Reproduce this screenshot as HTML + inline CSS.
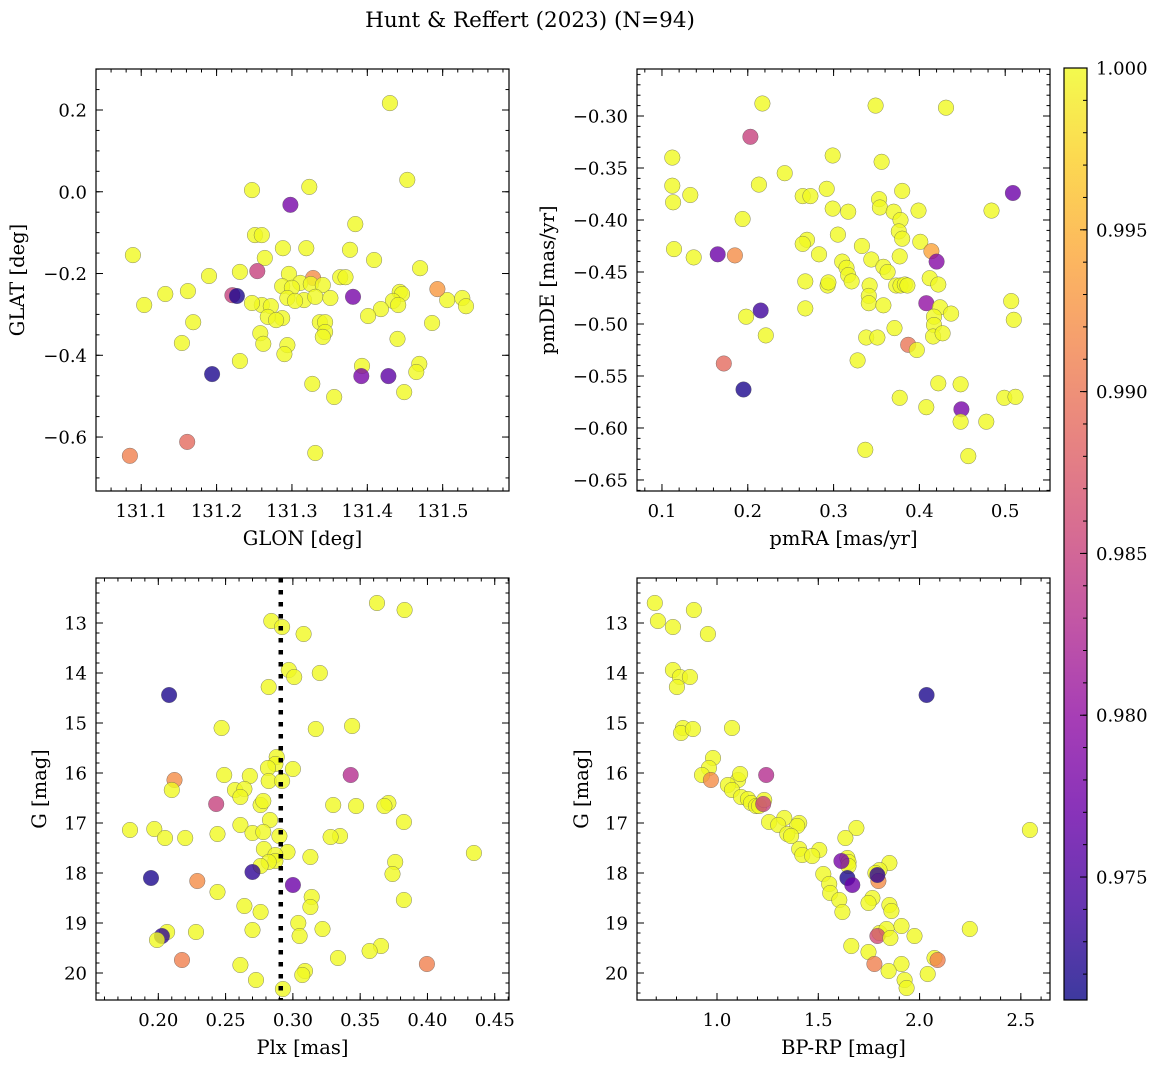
<!DOCTYPE html>
<html><head><meta charset="utf-8">
<style>
html,body{margin:0;padding:0;background:#fff;}
svg{display:block;font-family:"DejaVu Serif","Liberation Serif",serif;}
</style></head>
<body>
<svg id="fig" width="1161" height="1068" viewBox="0 0 1161 1068">
<defs>
<linearGradient id="cbgrad" x1="0" y1="1" x2="0" y2="0">
<stop offset="0" stop-color="#0d0887"/><stop offset="0.1" stop-color="#41049d"/>
<stop offset="0.2" stop-color="#6a00a8"/><stop offset="0.3" stop-color="#8f0da4"/>
<stop offset="0.4" stop-color="#b12a90"/><stop offset="0.5" stop-color="#cc4778"/>
<stop offset="0.6" stop-color="#e16462"/><stop offset="0.7" stop-color="#f2844b"/>
<stop offset="0.8" stop-color="#fca636"/><stop offset="0.9" stop-color="#fcce25"/>
<stop offset="1" stop-color="#f0f921"/>
</linearGradient>
</defs>
<text x="530" y="27" text-anchor="middle" font-size="21.5">Hunt &amp; Reffert (2023) (N=94)</text>
</svg>
<script>
// Panel data: [x, y, membership probability]
const glonGlat = [[131.430,0.217,1],[131.247,0.004,1],[131.323,0.012,1],[131.453,0.029,1],[131.298,-0.032,0.978],[131.384,-0.079,1],[131.251,-0.106,1],[131.260,-0.106,1],[131.089,-0.155,1],[131.288,-0.138,1],[131.319,-0.138,1],[131.377,-0.142,1],[131.264,-0.162,1],[131.409,-0.167,1],[131.470,-0.187,1],[131.231,-0.196,1],[131.254,-0.194,0.985],[131.296,-0.201,1],[131.190,-0.206,1],[131.364,-0.209,1],[131.371,-0.209,1],[131.328,-0.211,0.992],[131.311,-0.223,1],[131.325,-0.226,1],[131.287,-0.231,1],[131.300,-0.235,1],[131.341,-0.228,1],[131.162,-0.243,1],[131.132,-0.250,1],[131.221,-0.253,0.985],[131.227,-0.255,0.972],[131.443,-0.245,1],[131.446,-0.250,1],[131.506,-0.265,1],[131.526,-0.260,1],[131.294,-0.260,1],[131.316,-0.265,1],[131.331,-0.257,1],[131.351,-0.260,1],[131.304,-0.267,1],[131.381,-0.257,0.978],[131.434,-0.267,1],[131.441,-0.277,1],[131.531,-0.280,1],[131.418,-0.287,1],[131.260,-0.277,1],[131.272,-0.280,1],[131.247,-0.272,1],[131.104,-0.277,1],[131.287,-0.309,1],[131.337,-0.319,1],[131.344,-0.319,1],[131.344,-0.343,1],[131.401,-0.304,1],[131.486,-0.321,1],[131.268,-0.306,1],[131.279,-0.314,1],[131.169,-0.319,1],[131.258,-0.346,1],[131.262,-0.372,1],[131.440,-0.360,1],[131.294,-0.375,1],[131.290,-0.397,1],[131.341,-0.355,1],[131.154,-0.370,1],[131.231,-0.414,1],[131.393,-0.426,1],[131.469,-0.421,1],[131.465,-0.441,1],[131.327,-0.470,1],[131.194,-0.446,0.972],[131.392,-0.451,0.978],[131.428,-0.451,0.976],[131.449,-0.490,1],[131.356,-0.502,1],[131.161,-0.612,0.989],[131.085,-0.646,0.991],[131.331,-0.639,1],[131.493,-0.238,0.993]];
const pmraPmde = [[0.217,-0.288,1],[0.349,-0.290,1],[0.431,-0.292,1],[0.112,-0.340,1],[0.299,-0.338,1],[0.213,-0.366,1],[0.112,-0.367,1],[0.113,-0.383,1],[0.133,-0.376,1],[0.356,-0.344,1],[0.243,-0.355,1],[0.292,-0.370,1],[0.264,-0.377,1],[0.273,-0.377,1],[0.203,-0.320,0.985],[0.299,-0.389,1],[0.380,-0.372,1],[0.353,-0.380,1],[0.354,-0.388,1],[0.317,-0.392,1],[0.509,-0.374,0.977],[0.484,-0.391,1],[0.399,-0.391,1],[0.370,-0.392,1],[0.378,-0.400,1],[0.376,-0.411,1],[0.194,-0.399,1],[0.305,-0.414,1],[0.269,-0.419,1],[0.264,-0.423,1],[0.333,-0.425,1],[0.380,-0.418,1],[0.401,-0.421,1],[0.114,-0.428,1],[0.414,-0.430,0.994],[0.137,-0.436,1],[0.165,-0.433,0.977],[0.185,-0.434,0.992],[0.283,-0.433,1],[0.344,-0.438,1],[0.310,-0.440,1],[0.358,-0.445,1],[0.420,-0.440,0.979],[0.315,-0.446,1],[0.317,-0.453,1],[0.363,-0.450,1],[0.377,-0.435,1],[0.321,-0.459,1],[0.412,-0.456,1],[0.373,-0.463,1],[0.378,-0.463,1],[0.383,-0.462,1],[0.386,-0.463,1],[0.293,-0.463,1],[0.294,-0.460,1],[0.342,-0.463,1],[0.267,-0.459,1],[0.422,-0.462,1],[0.341,-0.473,1],[0.341,-0.480,1],[0.408,-0.480,0.980],[0.358,-0.482,1],[0.507,-0.478,1],[0.424,-0.484,1],[0.267,-0.485,1],[0.437,-0.490,1],[0.215,-0.487,0.974],[0.417,-0.493,1],[0.417,-0.501,1],[0.198,-0.493,1],[0.510,-0.496,1],[0.416,-0.512,1],[0.427,-0.509,1],[0.371,-0.504,1],[0.221,-0.511,1],[0.338,-0.513,1],[0.351,-0.513,1],[0.387,-0.520,0.990],[0.397,-0.525,1],[0.328,-0.535,1],[0.172,-0.538,0.989],[0.422,-0.557,1],[0.448,-0.558,1],[0.195,-0.563,0.972],[0.377,-0.571,1],[0.499,-0.571,1],[0.512,-0.570,1],[0.449,-0.582,0.978],[0.408,-0.580,1],[0.448,-0.594,1],[0.478,-0.594,1],[0.337,-0.621,1],[0.457,-0.627,1]];
const plxG = [[0.3625,12.6,1],[0.383,12.74,1],[0.284,12.96,1],[0.292,13.08,1],[0.308,13.22,1],[0.297,13.94,1],[0.301,14.08,1],[0.320,14.0,1],[0.282,14.28,1],[0.208,14.44,0.972],[0.247,15.1,1],[0.317,15.12,1],[0.344,15.06,1],[0.288,15.68,1],[0.287,15.82,1],[0.300,15.92,1],[0.2815,15.9,1],[0.268,16.06,1],[0.249,16.04,1],[0.343,16.04,0.983],[0.212,16.14,0.992],[0.282,16.16,1],[0.292,16.16,1],[0.210,16.34,1],[0.257,16.34,1],[0.264,16.32,1],[0.261,16.48,1],[0.243,16.62,0.985],[0.276,16.64,1],[0.278,16.56,1],[0.330,16.64,1],[0.347,16.66,1],[0.371,16.6,1],[0.368,16.66,1],[0.3825,16.98,1],[0.283,16.94,1],[0.261,17.04,1],[0.179,17.14,1],[0.197,17.12,1],[0.244,17.22,1],[0.270,17.2,1],[0.278,17.18,1],[0.290,17.26,1],[0.335,17.26,1],[0.328,17.28,1],[0.205,17.3,1],[0.220,17.3,1],[0.2785,17.52,1],[0.296,17.58,1],[0.287,17.64,1],[0.313,17.68,1],[0.287,17.76,1],[0.282,17.78,1],[0.276,17.86,1],[0.4345,17.6,1],[0.376,17.78,1],[0.374,18.02,1],[0.270,17.98,0.973],[0.1946,18.1,0.972],[0.229,18.16,0.992],[0.300,18.24,0.977],[0.244,18.38,1],[0.314,18.48,1],[0.3825,18.54,1],[0.313,18.68,1],[0.264,18.66,1],[0.276,18.78,1],[0.304,19.0,1],[0.322,19.12,1],[0.228,19.18,1],[0.270,19.14,1],[0.2065,19.18,1],[0.2027,19.26,0.973],[0.199,19.34,1],[0.305,19.26,1],[0.3655,19.46,1],[0.357,19.56,1],[0.2176,19.74,0.991],[0.3335,19.7,1],[0.261,19.84,1],[0.3996,19.82,0.991],[0.309,19.96,1],[0.307,20.04,1],[0.2726,20.14,1],[0.2926,20.32,1]];
const bprpG = [[0.693,12.6,1],[0.708,12.96,1],[0.782,13.08,1],[0.886,12.74,1],[0.955,13.22,1],[0.782,13.94,1],[0.817,14.08,1],[0.866,14.08,1],[0.802,14.28,1],[2.035,14.44,0.972],[0.832,15.1,1],[0.822,15.2,1],[0.881,15.12,1],[1.074,15.1,1],[0.980,15.7,1],[0.960,15.9,1],[0.926,16.04,1],[0.970,16.14,0.992],[1.104,16.14,1],[1.114,16.02,1],[1.054,16.24,1],[1.074,16.34,1],[1.119,16.48,1],[1.153,16.52,1],[1.168,16.6,1],[1.193,16.66,1],[1.208,16.66,1],[1.233,16.54,1],[1.228,16.62,0.985],[1.243,16.04,0.983],[1.257,16.98,1],[1.332,16.9,1],[1.302,17.04,1],[1.406,17.0,1],[1.396,17.06,1],[1.347,17.22,1],[1.366,17.26,1],[2.545,17.14,1],[1.688,17.1,1],[1.634,17.3,1],[1.406,17.52,1],[1.421,17.64,1],[1.505,17.54,1],[1.470,17.66,1],[1.644,17.7,1],[1.649,17.78,1],[1.649,17.86,1],[1.851,17.8,1],[1.802,17.94,1],[1.782,18.0,1],[1.614,17.76,0.978],[1.525,18.02,1],[1.554,18.22,1],[1.559,18.4,1],[1.644,18.1,0.972],[1.668,18.24,0.977],[1.797,18.16,0.992],[1.792,18.04,0.973],[1.604,18.54,1],[1.619,18.78,1],[1.767,18.5,1],[1.748,18.6,1],[1.851,18.64,1],[1.861,18.76,1],[1.911,19.06,1],[1.802,19.2,1],[1.837,19.12,1],[1.792,19.26,0.986],[1.856,19.3,1],[1.975,19.26,1],[2.248,19.12,1],[1.663,19.46,1],[1.748,19.58,1],[2.074,19.7,1],[2.089,19.74,0.991],[1.777,19.82,0.991],[1.911,19.82,1],[1.847,19.96,1],[2.040,20.02,1],[1.926,20.14,1],[1.936,20.3,1]];
const plxMedian = [0.291];
const glonTicks = ["131.1","131.2","131.3","131.4","131.5"];
const glatTicks = ["−0.6","−0.4","−0.2","0.0","0.2"];
const pmraTicks = ["0.1","0.2","0.3","0.4","0.5"];
const pmdeTicks = ["−0.65","−0.60","−0.55","−0.50","−0.45","−0.40","−0.35","−0.30"];
const plxTicks = ["0.20","0.25","0.30","0.35","0.40","0.45"];
const gTicks = ["13","14","15","16","17","18","19","20"];
const bprpTicks = ["1.0","1.5","2.0","2.5"];
const cbarTicks = ["0.975","0.980","0.985","0.990","0.995","1.000"];
const probRange = [0.9712, 1.0];

const NS = "http://www.w3.org/2000/svg";
const svg = document.getElementById('fig');
function mk(tag, attrs, parent){
  const e = document.createElementNS(NS, tag);
  for (const k in attrs) e.setAttribute(k, attrs[k]);
  (parent||svg).appendChild(e);
  return e;
}
const stops = [[0,"#0d0887"],[0.1,"#41049d"],[0.2,"#6a00a8"],[0.3,"#8f0da4"],[0.4,"#b12a90"],[0.5,"#cc4778"],[0.6,"#e16462"],[0.7,"#f2844b"],[0.8,"#fca636"],[0.9,"#fcce25"],[1,"#f0f921"]];
function hex(h){return [1,3,5].map(i=>parseInt(h.substr(i,2),16));}
function plasma(t){
  t=Math.max(0,Math.min(1,t));
  for(let i=1;i<stops.length;i++){
    if(t<=stops[i][0]){
      const a=hex(stops[i-1][1]), b=hex(stops[i][1]);
      const f=(t-stops[i-1][0])/(stops[i][0]-stops[i-1][0]);
      return 'rgb('+a.map((v,j)=>Math.round(v+(b[j]-v)*f)).join(',')+')';
    }
  }
  return stops[stops.length-1][1];
}
function num(s){return parseFloat(s.replace('−','-'));}

function panel(cfg){
  const {name,L,T,R,B,xmin,xmax,ymin,ymax,invertY,xticks,yticks,xminor,yminor,xlabel,ylabel,ylabelX,data} = cfg;
  const g = mk('g',{});
  
  
  const sx = v => L + (v-xmin)/(xmax-xmin)*(R-L);
  const sy = invertY ? (v => T + (v-ymin)/(ymax-ymin)*(B-T)) : (v => B - (v-ymin)/(ymax-ymin)*(B-T));
  const cid = 'clip-'+name;
  const cp = mk('clipPath',{id:cid},g);
  mk('rect',{x:L,y:T,width:R-L,height:B-T},cp);
  const pts = mk('g',{'clip-path':'url(#'+cid+')'},g);
  
  
  data.forEach(d=>{
    const c = mk('circle',{cx:sx(d[0]).toFixed(1),cy:sy(d[1]).toFixed(1),r:7.8,fill:plasma((d[2]-probRange[0])/(probRange[1]-probRange[0])),'fill-opacity':0.8,stroke:'#555','stroke-width':0.5,'stroke-opacity':0.7},pts);
    
    
  });
  if (cfg.vline){
    const ln = mk('line',{x1:sx(cfg.vline),x2:sx(cfg.vline),y1:T,y2:B,stroke:'#000','stroke-width':4.5,'stroke-dasharray':'4.5,7.5'},pts);
    
    
  }
  const tk = mk('g',{stroke:'#000','stroke-width':1},g);
  const eps=1e-9;
  const xs0 = Math.ceil(xmin/xminor-eps), xs1=Math.floor(xmax/xminor+eps);
  for(let i=xs0;i<=xs1;i++){const x=sx(i*xminor);mk('line',{x1:x,x2:x,y1:B,y2:B-3.5},tk);mk('line',{x1:x,x2:x,y1:T,y2:T+3.5},tk);}
  const ys0 = Math.ceil(ymin/yminor-eps), ys1=Math.floor(ymax/yminor+eps);
  for(let i=ys0;i<=ys1;i++){const y=sy(i*yminor);mk('line',{x1:L,x2:L+3.5,y1:y,y2:y},tk);mk('line',{x1:R,x2:R-3.5,y1:y,y2:y},tk);}
  xticks.forEach(s=>{const x=sx(num(s));mk('line',{x1:x,x2:x,y1:B,y2:B-7},tk);mk('line',{x1:x,x2:x,y1:T,y2:T+7},tk);
    const t=mk('text',{x:x,y:B+26,'text-anchor':'middle','font-size':18},g);t.textContent=s;
    });
  yticks.forEach(s=>{const y=sy(num(s));mk('line',{x1:L,x2:L+7,y1:y,y2:y},tk);mk('line',{x1:R,x2:R-7,y1:y,y2:y},tk);
    const t=mk('text',{x:L-9,y:y+6.5,'text-anchor':'end','font-size':18},g);t.textContent=s;
    });
  const fr = mk('rect',{x:L,y:T,width:R-L,height:B-T,fill:'none',stroke:'#000','stroke-width':1.2},g);
  
  
  const xl = mk('text',{x:(L+R)/2,y:B+54,'text-anchor':'middle','font-size':19.5},g);
  xl.textContent = xlabel;
  
  
  const cy=(T+B)/2;
  const yl = mk('text',{x:ylabelX,y:cy,'text-anchor':'middle','font-size':19.5,transform:'rotate(-90 '+ylabelX+' '+cy+')'},g);
  yl.textContent = ylabel;
  
  
}

panel({name:'glon-glat-panel',L:96,T:69,R:509,B:491,xmin:131.04,xmax:131.588,ymin:-0.732,ymax:0.3003,xticks:glonTicks,yticks:glatTicks,xminor:0.02,yminor:0.05,xlabel:'GLON [deg]',ylabel:'GLAT [deg]',ylabelX:24,data:glonGlat});
panel({name:'pm-panel',L:637,T:69,R:1050,B:491,xmin:0.0709,xmax:0.5522,ymin:-0.6606,ymax:-0.2548,xticks:pmraTicks,yticks:pmdeTicks,xminor:0.02,yminor:0.01,xlabel:'pmRA [mas/yr]',ylabel:'pmDE [mas/yr]',ylabelX:554,data:pmraPmde});
panel({name:'plx-g-panel',L:96,T:578,R:509,B:1000,xmin:0.1537,xmax:0.4606,ymin:12.1,ymax:20.54,invertY:true,xticks:plxTicks,yticks:gTicks,xminor:0.01,yminor:0.2,xlabel:'Plx [mas]',ylabel:'G [mag]',ylabelX:46,data:plxG,vline:plxMedian[0]});
panel({name:'cmd-panel',L:637,T:578,R:1050,B:1000,xmin:0.605,xmax:2.644,ymin:12.1,ymax:20.54,invertY:true,xticks:bprpTicks,yticks:gTicks,xminor:0.1,yminor:0.2,xlabel:'BP-RP [mag]',ylabel:'G [mag]',ylabelX:588,data:bprpG});

(function(){
  const L=1064,R=1087,T=68,B=1000;
  const g = mk('g',{});
  
  
  mk('rect',{x:L,y:T,width:R-L,height:B-T,fill:'url(#cbgrad)','fill-opacity':0.8},g);
  const sy = v => B - (v-probRange[0])/(probRange[1]-probRange[0])*(B-T);
  for(let i=Math.ceil(probRange[0]/0.001-1e-6);i<=Math.floor(probRange[1]/0.001+1e-6);i++){
    const y=sy(i*0.001); mk('line',{x1:R,x2:R-4,y1:y,y2:y,stroke:'#000','stroke-width':1},g);
  }
  cbarTicks.forEach(s=>{const y=sy(parseFloat(s));
    mk('line',{x1:R,x2:R-7,y1:y,y2:y,stroke:'#000','stroke-width':1},g);
    const t=mk('text',{x:R+9,y:y+6.5,'font-size':18},g);t.textContent=s;
    });
  mk('rect',{x:L,y:T,width:R-L,height:B-T,fill:'none',stroke:'#000','stroke-width':1.2},g);
})();
</script>
</body></html>
